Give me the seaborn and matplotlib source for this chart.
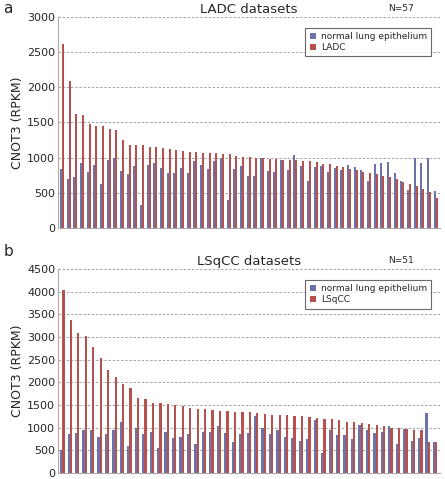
import matplotlib
matplotlib.use("Agg")
import matplotlib.pyplot as plt
import seaborn as sns
import pandas as pd

ladc_normal = [844,692,720,924,796,891,630,967,990,810,768,877,329,896,919,853,782,787,848,782,
               953,896,834,948,1000,398,834,882,739,
               739,1000,810,790,967,830,1033,880,668,870,880,800,850,820,890,860,830,668,905,929,
               943,777,673,535,1000,929,1000,526]
ladc_tumor = [2620,2090,1615,1605,1480,1455,1450,1410,1395,1255,1180,1180,1175,1155,1150,1140,1125,1110,1090,1080,
              1080,1070,1070,1060,1050,1045,1025,1015,1010,1000,990,980,975,970,965,960,950,945,935,915,
              905,880,860,840,820,800,780,760,740,720,700,660,620,590,560,510,420]
lsq_normal = [510,870,890,940,950,800,860,960,1130,590,990,870,910,550,910,770,800,870,630,910,
              900,1040,890,690,870,880,1250,1000,870,940,800,770,700,760,1170,440,940,850,830,760,
              1050,940,880,910,1040,650,980,700,780,1330,690]
lsq_tumor = [4040,3370,3090,3020,2790,2530,2270,2130,1960,1870,1660,1630,1550,1540,1520,1500,1490,1440,1420,1410,
             1400,1380,1360,1350,1340,1340,1320,1310,1290,1280,1270,1260,1250,1240,1220,1200,1190,1160,1130,1120,
             1100,1090,1070,1040,1000,990,970,960,940,690,690]

BLUE = "#6B73A8"
RED = "#B5524F"

sns.set_style("white")
plt.rcParams['font.family'] = ['DejaVu Sans']
fig = plt.figure(figsize=(4.45, 4.79), dpi=100)

def panel(rect, normal, tumor, label, title, n, ymax, ystep, letter, ly):
    ax = fig.add_axes(rect)
    k = len(normal)
    df = pd.DataFrame({"idx": list(range(k)) * 2,
                       "val": normal + tumor,
                       "group": ["normal lung epithelium"] * k + [label] * k})
    sns.barplot(data=df, x="idx", y="val", hue="group", palette=[BLUE, RED],
                width=0.6, ax=ax, legend=True, linewidth=0, saturation=1)
    ax.set_ylim(0, ymax)
    ax.set_yticks(range(0, ymax + 1, ystep))
    ax.tick_params(axis='y', labelsize=8, length=0, pad=2)
    ax.set_xticks([])
    ax.set_xlabel("")
    ax.set_ylabel("CNOT3 (RPKM)", fontsize=9, labelpad=2)
    ax.set_xlim(-0.6, k - 0.4)
    ax.yaxis.grid(True, ls=(0, (3, 2)), color="#999999", lw=0.6)
    ax.set_axisbelow(True)
    for s in ["top", "right"]:
        ax.spines[s].set_visible(False)
    ax.spines["left"].set_color("#aaaaaa")
    ax.spines["bottom"].set_color("#aaaaaa")
    ax.set_title(title, fontsize=9.5, pad=3)
    ax.text(0.9, 1.02, n, transform=ax.transAxes, fontsize=6.5, ha="center", va="bottom")
    leg = ax.legend(loc="upper right", bbox_to_anchor=(0.99, 0.97), fontsize=6.5, frameon=True,
                    fancybox=False, edgecolor="#444444", handlelength=0.7, handleheight=0.7,
                    handletextpad=0.5, borderpad=0.5, labelspacing=0.2)
    leg.get_frame().set_linewidth(0.8)
    fig.text(0.008, ly, letter, fontsize=11, va="top")

panel([0.13, 0.524, 0.858, 0.441], ladc_normal, ladc_tumor, "LADC", "LADC datasets", "N=57",
      3000, 500, "a", 0.998)
panel([0.13, 0.0125, 0.858, 0.4255], lsq_normal, lsq_tumor, "LSqCC", "LSqCC datasets", "N=51",
      4500, 500, "b", 0.49)

fig.savefig("out.png", dpi=100)
